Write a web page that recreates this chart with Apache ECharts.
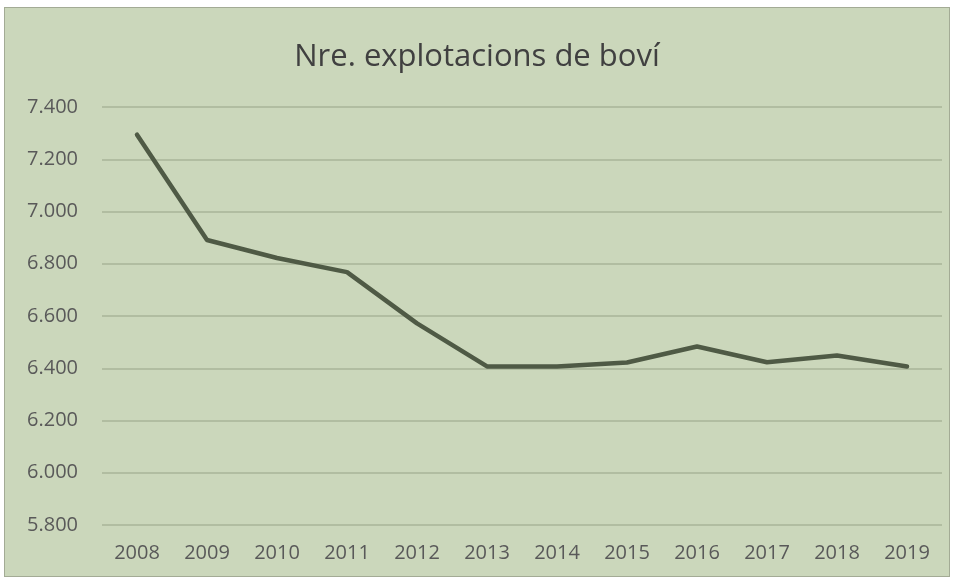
<!DOCTYPE html>
<html>
<head>
<meta charset="utf-8">
<script src="https://cdn.jsdelivr.net/npm/echarts@6/dist/echarts.min.js"></script>
<style>
  html, body { margin: 0; padding: 0; background: #fff; }
  #chart { position: absolute; left: 4px; top: 7px; width: 944px; height: 568px;
           border: 1px solid #a3ab95; background: #cbd7bb; }
</style>
</head>
<body>
<div id="chart"></div>
<script>
// dades llegides del gràfic
var years = ['2008', '2009', '2010', '2011', '2012', '2013', '2014', '2015', '2016', '2017', '2018', '2019'];
var farms = [7294, 6891, 6822, 6768, 6572, 6407, 6407, 6422, 6483, 6423, 6449, 6407];
var titleText = 'Nre. explotacions de boví';

var chart = echarts.init(document.getElementById('chart'));
var font = '"Open Sans", sans-serif';

chart.setOption({
    animation: false,
    backgroundColor: '#cbd7bb',
    title: {
        text: titleText,
        left: 'center',
        top: 29,
        textStyle: { fontFamily: font, fontSize: 31, fontWeight: 'normal', color: '#404040' }
    },
    grid: { left: 97, right: 7, top: 99, bottom: 51, containLabel: false },
    xAxis: {
        type: 'category',
        data: years,
        boundaryGap: true,
        axisLine: { show: false },
        axisTick: { show: false },
        axisLabel: { fontFamily: font, fontSize: 20, color: '#595959', margin: 18 }
    },
    yAxis: {
        type: 'value',
        min: 5800,
        max: 7400,
        interval: 200,
        axisLine: { show: false },
        axisTick: { show: false },
        splitLine: { lineStyle: { color: '#a9b498', width: 1.5 } },
        axisLabel: {
            fontFamily: font, fontSize: 20, color: '#595959', margin: 24,
            formatter: function (v) { return String(v).replace(/\B(?=(\d{3})+(?!\d))/g, '.'); }
        }
    },
    series: [{
        type: 'line',
        data: farms,
        symbol: 'none',
        lineStyle: { color: '#4f5a45', width: 4.5, cap: 'round', join: 'round' }
    }]
});
</script>
</body>
</html>
